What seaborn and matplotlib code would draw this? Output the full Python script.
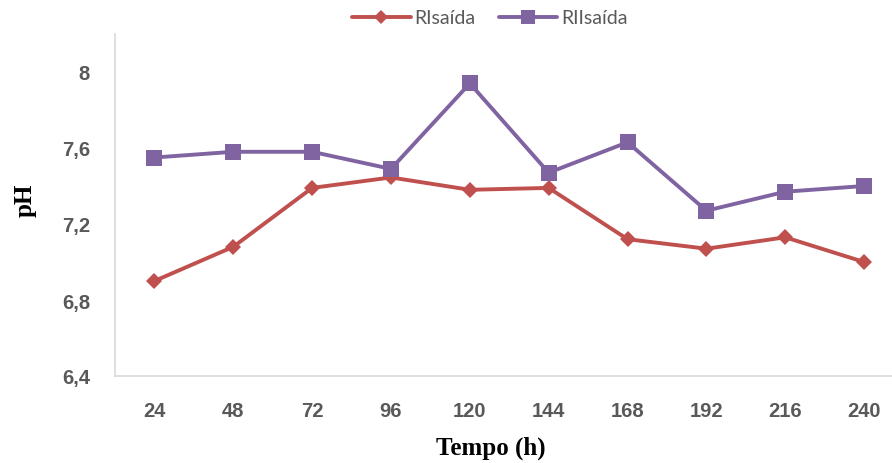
import matplotlib
matplotlib.use("Agg")
import matplotlib.pyplot as plt
import seaborn as sns
import pandas as pd
from matplotlib.ticker import FixedLocator, FixedFormatter

# pH over time for the two reactor outlets
tempo_h = [24, 48, 72, 96, 120, 144, 168, 192, 216, 240]
ri_saida = [6.90, 7.08, 7.39, 7.445, 7.38, 7.39, 7.12, 7.07, 7.13, 7.00]
rii_saida = [7.55, 7.58, 7.58, 7.49, 7.94, 7.47, 7.63, 7.27, 7.37, 7.40]
series_names = ["RIsaída", "RIIsaída"]
y_ticks = [6.4, 6.8, 7.2, 7.6, 8.0]
y_tick_labels = ["6,4", "6,8", "7,2", "7,6", "8"]

df = pd.DataFrame({
    "Tempo": tempo_h * 2,
    "pH": ri_saida + rii_saida,
    "Serie": [series_names[0]] * len(tempo_h) + [series_names[1]] * len(tempo_h),
})

sns.set_theme(style="white")
plt.rcParams["font.family"] = ["Liberation Sans", "DejaVu Sans"]

fig = plt.figure(figsize=(8.92, 4.64), dpi=100)
ax = fig.add_axes([115 / 892, 87 / 464, 788.5 / 892, 342 / 464])

styles = {
    "RIsaída": dict(color="#C0504D", marker="D", markersize=8.5),
    "RIIsaída": dict(color="#8064A2", marker="s", markersize=12),
}
for name in series_names:
    st = styles[name]
    sns.lineplot(
        data=df[df["Serie"] == name], x="Tempo", y="pH", ax=ax,
        color=st["color"], marker=st["marker"], markersize=st["markersize"],
        markeredgewidth=0, linewidth=2.8, label=name, legend=False,
    )

ax.set_xlim(12, 252)
ax.set_ylim(6.4, 8.2)
ax.xaxis.set_major_locator(FixedLocator(tempo_h))
ax.xaxis.set_major_formatter(FixedFormatter([str(t) for t in tempo_h]))
ax.yaxis.set_major_locator(FixedLocator(y_ticks))
ax.yaxis.set_major_formatter(FixedFormatter(y_tick_labels))

for lab in ax.get_xticklabels() + ax.get_yticklabels():
    lab.set_fontweight("bold")
    lab.set_color("#595959")
    lab.set_fontsize(14.5)
for lab in ax.get_xticklabels():
    lab.set_fontstretch("expanded")
ax.tick_params(axis="x", length=0, pad=18)
ax.tick_params(axis="y", length=0, pad=18)

for side in ["top", "right"]:
    ax.spines[side].set_visible(False)
for side in ["left", "bottom"]:
    ax.spines[side].set_color("#D9D9D9")
    ax.spines[side].set_linewidth(1.2)

ax.set_xlabel("Tempo (h)", family=["Liberation Serif"], fontweight="bold",
              fontsize=18, color="black")
ax.xaxis.label.set_verticalalignment("center")
ax.xaxis.set_label_coords((491 - 115) / 788.5, -(448 - 377) / 342)
ax.set_ylabel("pH", family=["Liberation Serif"], fontweight="bold",
              fontsize=18, color="black")
ax.yaxis.label.set_verticalalignment("center")
ax.yaxis.set_label_coords(-(115 - 25) / 788.5, (377 - 200) / 342)

handles, labels = ax.get_legend_handles_labels()
leg = fig.legend(handles, labels, loc="center", bbox_to_anchor=(490 / 892, 1 - 19 / 464),
                 ncol=2, frameon=False, prop={"family": "Lato", "size": 14},
                 handlelength=3.0, columnspacing=1.2, handletextpad=0.2,
                 markerscale=0.8)
for t in leg.get_texts():
    t.set_color("#595959")

fig.savefig("out.png", dpi=100)
